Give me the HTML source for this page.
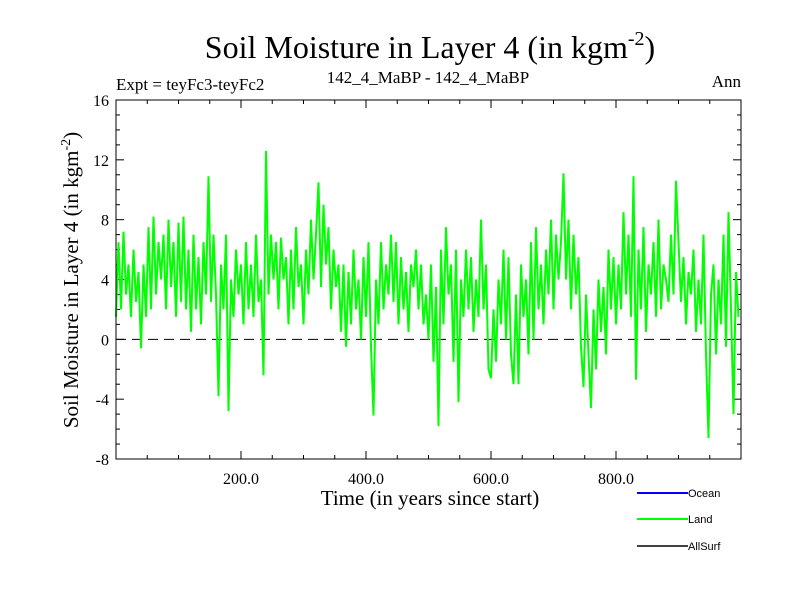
<!DOCTYPE html>
<html><head><meta charset="utf-8"><style>
body{margin:0;background:#fff;}
svg{display:block;}
text{font-family:"Liberation Serif",serif;fill:#000;}
.sans{font-family:"Liberation Sans",sans-serif;}
</style></head><body>
<svg id="chart" width="800" height="600" xmlns="http://www.w3.org/2000/svg">
<rect width="800" height="600" fill="#fff"/>
<text x="430" y="58" font-size="32" text-anchor="middle">Soil Moisture in Layer 4 (in kgm<tspan dy="-13" font-size="20">-2</tspan><tspan dy="13">)</tspan></text>
<text x="116" y="90" font-size="17">Expt = teyFc3-teyFc2</text>
<text x="428" y="83" font-size="17" text-anchor="middle">142_4_MaBP - 142_4_MaBP</text>
<text x="741" y="87" font-size="17" text-anchor="end">Ann</text>
<text transform="translate(78,280) rotate(-90)" font-size="21" text-anchor="middle">Soil Moisture in Layer 4 (in kgm<tspan dy="-8" font-size="14">-2</tspan><tspan dy="8">)</tspan></text>
<text x="430" y="505" font-size="21" text-anchor="middle">Time (in years since start)</text>
<g id="axes"></g>
<g id="series"></g>
<rect x="116" y="100" width="625" height="359" fill="none" stroke="#000" stroke-width="1"/>
<g class="sans" font-size="11">
<line x1="637" y1="493" x2="688" y2="493" stroke="#0000ff" stroke-width="2"/>
<text class="sans" x="688" y="497" font-size="11">Ocean</text>
<line x1="637" y1="519" x2="688" y2="519" stroke="#00ff00" stroke-width="2"/>
<text class="sans" x="688" y="523" font-size="11">Land</text>
<line x1="637" y1="546" x2="688" y2="546" stroke="#000" stroke-width="1.5"/>
<text class="sans" x="688" y="550" font-size="11">AllSurf</text>
</g>
</svg>
<script>
const yearStep = 4;
const landValues = [
1.5,6.5,2,7.2,3,5,1.5,6,2.5,4.5,
-0.6,5,1.5,7.5,2,8.2,3,6.5,4,7,
2,8,3.5,6.5,1.5,7.8,2.5,8.2,2,6,
0.5,7,2,5.5,1,6.5,3,10.9,2.5,7,
3,-3.8,5,2,7,-4.8,4,1.5,6,3,
5,1,6.5,2,5,1.5,7,2.5,4,-2.4,
12.6,3,7,4,6.5,2,6.8,4,5.5,1,
6,2,7.5,3.5,5,1,6,3,8,4,
7,10.5,3.5,9,5,7.5,2,6,3.5,5,
0.5,5,-0.5,4.5,1,6,2,4,0,5.5,
1.5,6.5,-0.5,-5.1,4,1,6.5,2,5,3,
7,2.5,6.5,1,5.5,2,4.5,0.5,5,3.5,
6,2,5,1,3,0,5,-1.5,3.5,-5.8,
6,1,7.5,3,5,-1.5,6,-4.2,4,1.5,
6,2,5.5,0.5,4,1.5,8,2,5,-2,
-2.6,2,-1.5,4,1,6,0,5.5,-1,-3,
3,-3,5,1.5,4,-1,6.5,0,7.5,2,
5,1,6,3,8,2,7,4,6.5,11.1,
4,8,2,7,3,5.5,-0.5,-3.2,3,-1,
-4.6,2,-2,4,0.5,3.5,-1,6,2,5.5,
1,5,2,8.5,3,7,1.5,10.9,-2.7,6,
2,7.5,0.5,5,3,6.5,1.5,8,2,5,
4,2.5,7,3,10.6,6.5,2.5,5.5,1,4.5,
3,6,0.5,4,1,7,-1,-6.6,3,5,
-1,4,1,7,-0.5,8.5,2,-5,4.5,1.5
];
const yTickValues = [16,12,8,4,0,-4,-8];
const xTickValues = [200,400,600,800];
const xTickLabels = ["200.0","400.0","600.0","800.0"];

const X0=116,X1=741,Y0=459,Y1=100,XMIN=0,XMAX=1000,YMIN=-8,YMAX=16;
function xs(v){return X0+(v-XMIN)/(XMAX-XMIN)*(X1-X0);}
function ys(v){return Y0-(v-YMIN)/(YMAX-YMIN)*(Y0-Y1);}
const NS="http://www.w3.org/2000/svg";
const axes=document.getElementById('axes');
function mk(tag,attrs,parent){const e=document.createElementNS(NS,tag);for(const k in attrs)e.setAttribute(k,attrs[k]);parent.appendChild(e);return e;}

for(let v=YMIN;v<=YMAX;v++){
  const major=(v%4===0), len=major?8:4, y=ys(v);
  const t1=mk('line',{x1:X0,y1:y,x2:X0+len,y2:y,stroke:'#000','stroke-width':1},axes);
  
  
  const t2=mk('line',{x1:X1,y1:y,x2:X1-len,y2:y,stroke:'#000','stroke-width':1},axes);
  
  
}
yTickValues.forEach(v=>{
  const t=mk('text',{x:X0-7,y:ys(v)+6,'font-size':16,'text-anchor':'end'},axes);
  t.textContent=String(v);
  
  
});
for(let v=50;v<XMAX;v+=50){
  const major=(v%200===0), len=major?8:4, x=xs(v);
  const t1=mk('line',{x1:x,y1:Y0,x2:x,y2:Y0-len,stroke:'#000','stroke-width':1},axes);
  
  
  const t2=mk('line',{x1:x,y1:Y1,x2:x,y2:Y1+len,stroke:'#000','stroke-width':1},axes);
  
  
}
xTickValues.forEach((v,i)=>{
  const t=mk('text',{x:xs(v),y:Y0+25,'font-size':16,'text-anchor':'middle'},axes);
  t.textContent=xTickLabels[i];
  
  
});
const z=mk('line',{x1:X0,y1:ys(0),x2:X1,y2:ys(0),stroke:'#000','stroke-width':1,'stroke-dasharray':'10,6'},axes);



const pts=landValues.map((v,i)=>xs(i*yearStep).toFixed(1)+','+ys(v).toFixed(1)).join(' ');
const pl=mk('polyline',{points:pts,fill:'none',stroke:'#00ff00','stroke-width':2,'stroke-linejoin':'miter'},document.getElementById('series'));


</script>
</body></html>
